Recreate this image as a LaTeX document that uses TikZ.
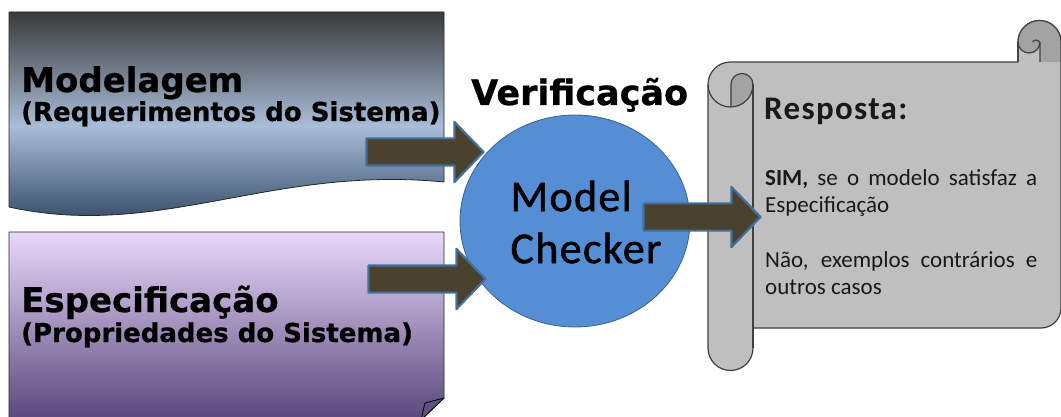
\documentclass[tikz,border=0pt]{standalone}
\usepackage{fontspec}
\setmainfont{Carlito}
\newfontfamily\heavyfont[FakeBold=0.8]{DejaVu Sans}
\newfontfamily\calfont[LetterSpace=4]{Carlito}
\newfontfamily\ballfont[LetterSpace=3,FakeBold=1.2]{Carlito}
\usepackage{tikz}
\usetikzlibrary{shapes.geometric,shapes.arrows}

\definecolor{arrowfill}{HTML}{4A422F}
\definecolor{arrowline}{HTML}{41709C}
\definecolor{ballblue}{HTML}{558ED5}
\definecolor{ballline}{HTML}{3A5F8C}
\definecolor{paper}{HTML}{BFBFBF}
\definecolor{paperdark}{HTML}{A3A3A3}
\definecolor{paperline}{HTML}{404040}
\definecolor{modtop}{HTML}{3A3A3A}
\definecolor{modmid}{HTML}{A9BDD8}
\definecolor{modbot}{HTML}{1F3552}
\definecolor{spectop}{HTML}{EAD8FB}
\definecolor{specbot}{HTML}{58487B}

\begin{document}
\begin{tikzpicture}[x=1pt,y=-1pt,line join=round]
  \tikzstyle{flow}=[single arrow,draw=arrowline,line width=2.2pt,fill=arrowfill,
                    minimum height=117pt,inner xsep=0pt,inner ysep=12.5pt,
                    single arrow head extend=16.5pt,single arrow tip angle=92,anchor=tip]
  \tikzstyle{big}=[anchor=base west,inner sep=0pt,font=\heavyfont\bfseries\fontsize{34}{40}\selectfont]
  \tikzstyle{sub}=[anchor=base west,inner sep=0pt,font=\heavyfont\bfseries\fontsize{26}{30}\selectfont]
  \tikzstyle{scrolltext}=[anchor=north west,inner sep=0pt,text width=272pt,align=justify,
                          text=black!90,font=\fontsize{23}{27}\selectfont]

  \useasboundingbox (0,0) rectangle (1061,417);
  \clip (0,0) rectangle (1061,417);

  % modelagem sheet, wavy bottom
  \shade[top color=modtop,bottom color=modbot,middle color=modmid,draw=black!85,line width=0.8pt]
    (9,12) -- (444,12) -- (444,182) .. controls (270,165) and (160,240) .. (9,207) -- cycle;
  % especificacao sheet with the folded corner
  \shade[top color=spectop,bottom color=specbot,draw=black!85,line width=0.8pt]
    (9,232) -- (444,232) -- (444,398) -- (421,420) -- (9,420) -- cycle;
  \filldraw[fill=specbot!95!white,draw=black,line width=0.8pt]
    (444,398) -- (425,403) -- (421,420) -- cycle;

  \node[big] (mod) at (21,92) {Modelagem};
  \node[sub] (modsub) at (21,121) {(Requerimentos do Sistema)};
  \node[big] (spec) at (21,312) {Especificação};
  \node[sub] (specsub) at (21,342) {(Propriedades do Sistema)};

  \node[big,font=\heavyfont\bfseries\fontsize{35}{40}\selectfont] (verif) at (471,105) {Verificação};
  \node[ellipse,draw=ballline,line width=0.8pt,fill=ballblue,
        minimum width=230pt,minimum height=212pt] (chk) at (575,221) {};
  \node[align=left,inner sep=0pt,font=\ballfont\fontsize{44}{52}\selectfont] (chktxt) at (586,222) {Model\\Checker};

  % the scroll: sheet, right curl on top, left roll down the side
  \filldraw[fill=paper,draw=paperline,line width=1.2pt]
    (753,328) -- (1041,328) arc[start angle=90,end angle=0,radius=20]
    -- (1061,42) arc[start angle=0,end angle=-180,radius=21.5]
    -- (1018,62) -- (730.5,62) arc[start angle=-90,end angle=-180,radius=22.5]
    -- (708,348) arc[start angle=180,end angle=0,radius=22.5] -- cycle;
  \fill[paperdark] (1061,62) -- (1061,42) arc[start angle=0,end angle=-180,radius=21.5]
    arc[start angle=180,end angle=0,radius=11] -- (1040,62) -- cycle;
  \draw[paperline,line width=1.2pt] (1018,62) -- (1018,42) arc[start angle=180,end angle=0,radius=11];
  \draw[paperline,line width=1.2pt] (1040,62) -- (1040,44) arc[start angle=0,end angle=-150,radius=4];
  \draw[paperline,line width=1.2pt] (1018,62) -- (1018,42) arc[start angle=-180,end angle=0,radius=21.5] -- (1061,62);
  \fill[paperdark] (731,107) -- (731,84.5) arc[start angle=180,end angle=360,radius=11]
    arc[start angle=0,end angle=90,radius=22.5] -- cycle;
  \draw[paperline,line width=1.2pt] (708,84.5) arc[start angle=180,end angle=0,radius=22.5];
  \draw[paperline,line width=1.2pt] (731,107) -- (731,84.5) arc[start angle=180,end angle=360,radius=11];
  \draw[paperline,line width=1.2pt] (753,84.5) -- (753,348);

  \node[anchor=base west,inner sep=0pt,text=black!90,
        font=\calfont\bfseries\fontsize{33}{38}\selectfont] (resp) at (764,120) {Resposta:};
  \node[scrolltext] (sim) at (765,169) {\textbf{SIM,} se o modelo satisfaz a\linebreak Especificação};
  \node[scrolltext] (nao) at (765,251) {Não, exemplos contrários e\linebreak outros casos};

  \node[flow] (arr1) at (485,152) {};
  \node[flow] (arr2) at (487,279) {};
  \node[flow] (arr3) at (762,217) {};
\end{tikzpicture}
\end{document}
